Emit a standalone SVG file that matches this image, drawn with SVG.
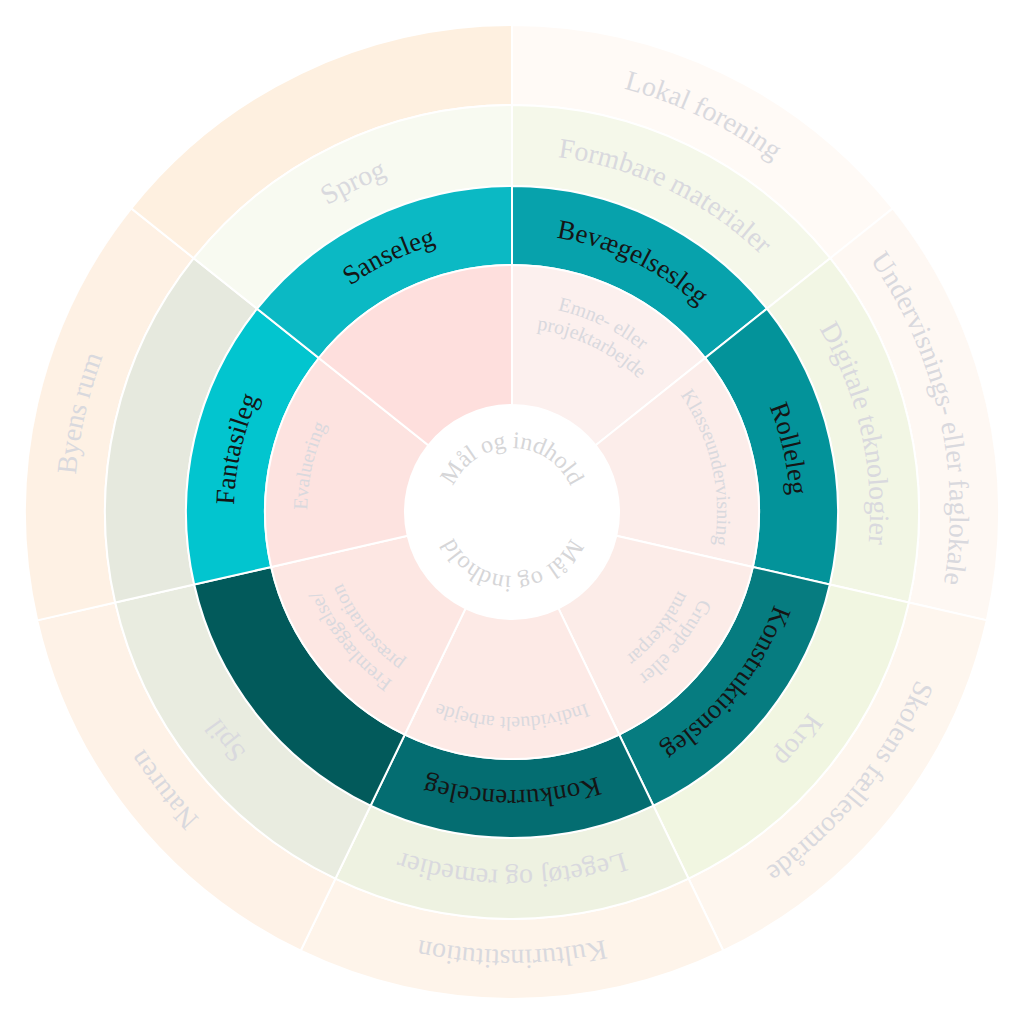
<svg xmlns="http://www.w3.org/2000/svg" xmlns:xlink="http://www.w3.org/1999/xlink" width="1024" height="1024" viewBox="0 0 1024 1024">
<style>
.seg{stroke:#ffffff;stroke-width:2;stroke-linejoin:miter}
text{font-family:"Liberation Serif","Times New Roman",serif}
.light{fill:#D9D9DE}
.dark{fill:#151515}
.c{font-size:24px;fill:#D6D6D8}
.p{font-size:20px}
.t{font-size:27px}
.g{font-size:28px}
.o{font-size:28px}
</style>
<defs>
<path id="w1" d="M512,265 A247,247 0 0 1 705.11,358.00 L595.66,445.29 A107,107 0 0 0 512,405 Z"/>
<path id="w2" d="M512,186 A326,326 0 0 1 766.88,308.74 L705.11,358.00 A247,247 0 0 0 512,265 Z"/>
<path id="w3" d="M512,105 A407,407 0 0 1 830.21,258.24 L766.88,308.74 A326,326 0 0 0 512,186 Z"/>
<path id="w4" d="M512,25 A487,487 0 0 1 892.75,208.36 L830.21,258.24 A407,407 0 0 0 512,105 Z"/>
<path id="a64" d="M448,512 A64,64 0 0 1 576,512"/>
<path id="a184" d="M328,512 A184,184 0 0 1 696,512"/>
<path id="a205" d="M307,512 A205,205 0 0 1 717,512"/>
<path id="a207" d="M305,512 A207,207 0 0 1 719,512"/>
<path id="a278" d="M234,512 A278,278 0 0 1 790,512"/>
<path id="a358" d="M154,512 A358,358 0 0 1 870,512"/>
<path id="a438" d="M74,512 A438,438 0 0 1 950,512"/>
</defs>
<rect x="0" y="0" width="1024" height="1024" fill="#ffffff"/>

<g id="ring-places">
<g id="lokal-forening"><use href="#w4" class="seg" fill="#FFFAF6" transform="rotate(0 512 512)"/>
<text class="light o" transform="rotate(25.714 512 512)"><textPath href="#a438" startOffset="50%" text-anchor="middle">Lokal forening</textPath></text></g>
<g id="undervisnings-eller-faglokale"><use href="#w4" class="seg" fill="#FEF8F3" transform="rotate(51.4286 512 512)"/>
<text class="light o" transform="rotate(77.143 512 512)"><textPath href="#a438" startOffset="50%" text-anchor="middle">Undervisnings- eller faglokale</textPath></text></g>
<g id="skolens-faellesomraade"><use href="#w4" class="seg" fill="#FEF6EE" transform="rotate(102.857 512 512)"/>
<text class="light o" transform="rotate(128.571 512 512)"><textPath href="#a438" startOffset="50%" text-anchor="middle">Skolens fællesområde</textPath></text></g>
<g id="kulturinstitution"><use href="#w4" class="seg" fill="#FEF4EA" transform="rotate(154.286 512 512)"/>
<text class="light o" transform="rotate(180 512 512)"><textPath href="#a438" startOffset="50%" text-anchor="middle">Kulturinstitution</textPath></text></g>
<g id="naturen"><use href="#w4" class="seg" fill="#FEF2E7" transform="rotate(205.714 512 512)"/>
<text class="light o" transform="rotate(231.429 512 512)"><textPath href="#a438" startOffset="50%" text-anchor="middle">Naturen</textPath></text></g>
<g id="byens-rum"><use href="#w4" class="seg" fill="#FEF1E4" transform="rotate(257.143 512 512)"/>
<text class="light o" transform="rotate(282.857 512 512)"><textPath href="#a438" startOffset="50%" text-anchor="middle">Byens rum</textPath></text></g>
<g id="place-empty"><use href="#w4" class="seg" fill="#FEF0E0" transform="rotate(308.571 512 512)"/></g>
</g>

<g id="ring-materials">
<g id="formbare-materialer"><use href="#w3" class="seg" fill="#F5F8EA" transform="rotate(0 512 512)"/>
<text class="light g" transform="rotate(25.714 512 512)"><textPath href="#a358" startOffset="50%" text-anchor="middle">Formbare materialer</textPath></text></g>
<g id="digitale-teknologier"><use href="#w3" class="seg" fill="#F2F6E4" transform="rotate(51.4286 512 512)"/>
<text class="light g" transform="rotate(77.143 512 512)"><textPath href="#a358" startOffset="50%" text-anchor="middle">Digitale teknologier</textPath></text></g>
<g id="krop"><use href="#w3" class="seg" fill="#F1F6E1" transform="rotate(102.857 512 512)"/>
<text class="light g" transform="rotate(128.571 512 512)"><textPath href="#a358" startOffset="50%" text-anchor="middle">Krop</textPath></text></g>
<g id="legetoej-og-remedier"><use href="#w3" class="seg" fill="#EEF2E1" transform="rotate(154.286 512 512)"/>
<text class="light g" transform="rotate(180 512 512)"><textPath href="#a358" startOffset="50%" text-anchor="middle">Legetøj og remedier</textPath></text></g>
<g id="spil"><use href="#w3" class="seg" fill="#E9ECE0" transform="rotate(205.714 512 512)"/>
<text class="light g" transform="rotate(231.429 512 512)"><textPath href="#a358" startOffset="50%" text-anchor="middle">Spil</textPath></text></g>
<g id="material-empty"><use href="#w3" class="seg" fill="#E6E9DE" transform="rotate(257.143 512 512)"/></g>
<g id="sprog"><use href="#w3" class="seg" fill="#F8FAF1" transform="rotate(308.571 512 512)"/>
<text class="light g" transform="rotate(334.286 512 512)"><textPath href="#a358" startOffset="50%" text-anchor="middle">Sprog</textPath></text></g>
</g>

<g id="ring-play">
<g id="bevaegelsesleg"><use href="#w2" class="seg" fill="#07A2AC" transform="rotate(0 512 512)"/>
<text class="dark t" transform="rotate(25.714 512 512)"><textPath href="#a278" startOffset="50%" text-anchor="middle">Bevægelsesleg</textPath></text></g>
<g id="rolleleg"><use href="#w2" class="seg" fill="#03939A" transform="rotate(51.4286 512 512)"/>
<text class="dark t" transform="rotate(77.143 512 512)"><textPath href="#a278" startOffset="50%" text-anchor="middle">Rolleleg</textPath></text></g>
<g id="konstruktionsleg"><use href="#w2" class="seg" fill="#067C80" transform="rotate(102.857 512 512)"/>
<text class="dark t" transform="rotate(128.571 512 512)"><textPath href="#a278" startOffset="50%" text-anchor="middle">Konstruktionsleg</textPath></text></g>
<g id="konkurrenceleg"><use href="#w2" class="seg" fill="#046D71" transform="rotate(154.286 512 512)"/>
<text class="dark t" transform="rotate(180 512 512)"><textPath href="#a278" startOffset="50%" text-anchor="middle">Konkurrenceleg</textPath></text></g>
<g id="play-empty"><use href="#w2" class="seg" fill="#025A5B" transform="rotate(205.714 512 512)"/></g>
<g id="fantasileg"><use href="#w2" class="seg" fill="#02C5CF" transform="rotate(257.143 512 512)"/>
<text class="dark t" transform="rotate(282.857 512 512)"><textPath href="#a278" startOffset="50%" text-anchor="middle">Fantasileg</textPath></text></g>
<g id="sanseleg"><use href="#w2" class="seg" fill="#0BB9C4" transform="rotate(308.571 512 512)"/>
<text class="dark t" transform="rotate(334.286 512 512)"><textPath href="#a278" startOffset="50%" text-anchor="middle">Sanseleg</textPath></text></g>
</g>

<g id="ring-forms">
<g id="emne-eller-projektarbejde"><use href="#w1" class="seg" fill="#FCF0EE" transform="rotate(0 512 512)"/>
<text class="light p" transform="rotate(25.714 512 512)"><textPath href="#a207" startOffset="50%" text-anchor="middle">Emne- eller</textPath></text>
<text class="light p" transform="rotate(25.714 512 512)"><textPath href="#a184" startOffset="50%" text-anchor="middle">projektarbejde</textPath></text></g>
<g id="klasseundervisning"><use href="#w1" class="seg" fill="#FCEDEA" transform="rotate(51.4286 512 512)"/>
<text class="light p" transform="rotate(77.143 512 512)"><textPath href="#a205" startOffset="50%" text-anchor="middle">Klasseundervisning</textPath></text></g>
<g id="gruppe-eller-makkerpar"><use href="#w1" class="seg" fill="#FCECE8" transform="rotate(102.857 512 512)"/>
<text class="light p" transform="rotate(128.571 512 512)"><textPath href="#a207" startOffset="50%" text-anchor="middle">Gruppe eller</textPath></text>
<text class="light p" transform="rotate(128.571 512 512)"><textPath href="#a184" startOffset="50%" text-anchor="middle">makkerpar</textPath></text></g>
<g id="individuelt-arbejde"><use href="#w1" class="seg" fill="#FDEAE6" transform="rotate(154.286 512 512)"/>
<text class="light p" transform="rotate(180 512 512)"><textPath href="#a205" startOffset="50%" text-anchor="middle">Individuelt arbejde</textPath></text></g>
<g id="fremlaeggelse-praesentation"><use href="#w1" class="seg" fill="#FDE7E3" transform="rotate(205.714 512 512)"/>
<text class="light p" transform="rotate(231.429 512 512)"><textPath href="#a207" startOffset="50%" text-anchor="middle">Fremlæggelse/</textPath></text>
<text class="light p" transform="rotate(231.429 512 512)"><textPath href="#a184" startOffset="50%" text-anchor="middle">præsentation</textPath></text></g>
<g id="evaluering"><use href="#w1" class="seg" fill="#FDE3E0" transform="rotate(257.143 512 512)"/>
<text class="light p" transform="rotate(282.857 512 512)"><textPath href="#a205" startOffset="50%" text-anchor="middle">Evaluering</textPath></text></g>
<g id="form-empty"><use href="#w1" class="seg" fill="#FEDFDD" transform="rotate(308.571 512 512)"/></g>
</g>

<g id="center">
<circle cx="512" cy="512" r="106" fill="#ffffff"/>
<text class="c"><textPath href="#a64" startOffset="50%" text-anchor="middle">Mål og indhold</textPath></text>
<text class="c" transform="rotate(180 512 512)"><textPath href="#a64" startOffset="50%" text-anchor="middle">Mål og indhold</textPath></text>
</g>
<g id="connectors"></g>
</svg>
